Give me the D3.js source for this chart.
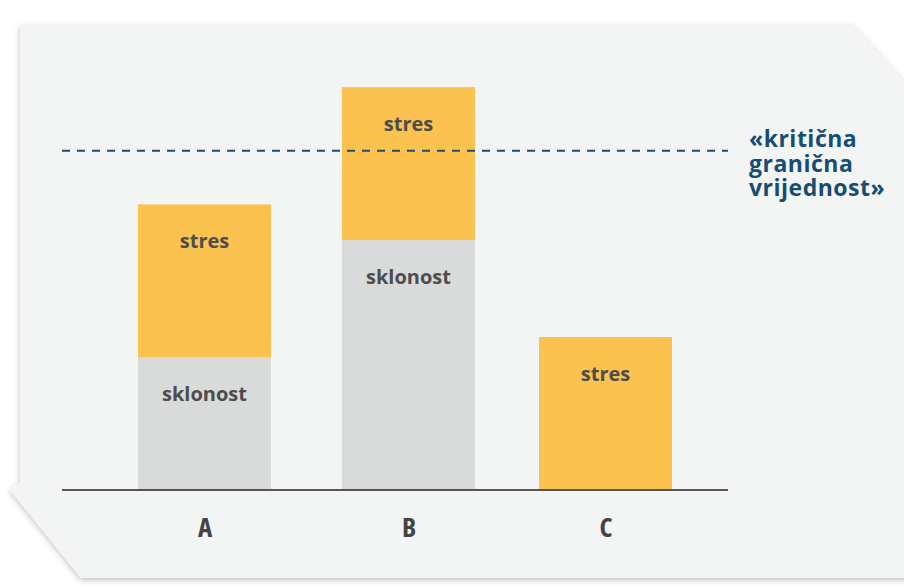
<!DOCTYPE html>
<html><head><meta charset="utf-8">
<script src="https://cdn.jsdelivr.net/npm/d3@7"></script>
<style>
html,body{margin:0;padding:0;background:#fff;}
svg{display:block;}
text{font-family:"Open Sans","Liberation Sans Narrow",sans-serif;font-weight:700;}
</style></head>
<body><svg id="chart" width="904" height="587"></svg>
<script>
const categories = ["A","B","C"];
const sklonost = [2.6, 4.9, 0];
const stres = [3, 3, 3];
const threshold = 6.65;
const thresholdLabel = ["«kritična","granična","vrijednost»"];
const seriesNames = ["sklonost","stres"];

const svg = d3.select("#chart");

// panel background (paper sheet)
const defs = svg.append("defs");
const f = defs.append("filter").attr("id","sh").attr("x","-5%").attr("y","-5%").attr("width","110%").attr("height","115%");
f.append("feDropShadow").attr("dx",0).attr("dy",2).attr("stdDeviation",3).attr("flood-color","#000").attr("flood-opacity",0.25);

svg.append("path")
  .attr("d","M20,25 L852,25 L910,88 L910,578 L81,578 L10,490 L20,482 Z")
  .attr("fill","#f3f5f5").attr("filter","url(#sh)");

const xc = d3.scaleOrdinal().domain(categories).range([204.5,408.5,605.5]);
const bw = 133;
const y = d3.scaleLinear().domain([0,8]).range([490,82]);

const data = categories.map((c,i)=>({cat:c, sklonost:sklonost[i], stres:stres[i]}));
const stack = d3.stack().keys(seriesNames)(data);
const colors = {sklonost:"#d9dbdb", stres:"#fbc250"};

const g = svg.append("g");
stack.forEach(s=>{
  g.selectAll(null).data(s).join("rect")
    .attr("x",d=>xc(d.data.cat)-bw/2)
    .attr("width",bw)
    .attr("y",d=>y(d[1]))
    .attr("height",d=>y(d[0])-y(d[1]))
    .attr("fill",colors[s.key]);
  g.selectAll(null).data(s.filter(d=>d[1]-d[0]>0)).join("text")
    .attr("x",d=>xc(d.data.cat))
    .attr("y",d=>y(d[1])+44)
    .attr("text-anchor","middle")
    .attr("font-size",20)
    .attr("fill","#4d4d4d")
    .text(s.key);
});

// axis
const axis = d3.axisBottom(xc).tickSize(0).tickPadding(0);
const ax = svg.append("g").attr("transform","translate(0,490)").call(axis);
ax.select(".domain").remove();
ax.append("line").attr("x1",62).attr("x2",728).attr("y1",0).attr("y2",0).attr("stroke","#555").attr("stroke-width",2);
ax.selectAll(".tick text").attr("dy",null).attr("y",47).attr("font-size",27).attr("fill","#444")
  .style("font-family",'"Open Sans","Liberation Sans Narrow",sans-serif').style("font-weight",700).style("font-stretch","75%");

// threshold
svg.append("line").attr("x1",62).attr("x2",728).attr("y1",y(threshold)).attr("y2",y(threshold))
  .attr("stroke","#1f4e6e").attr("stroke-width",2).attr("stroke-dasharray","8,7");
svg.selectAll(".thr").data(thresholdLabel).join("text").attr("class","thr")
  .attr("x",749).attr("y",(d,i)=>147+i*24.5)
  .attr("font-size",23).attr("letter-spacing",0.5).attr("fill","#174d72").text(d=>d);
</script></body></html>
